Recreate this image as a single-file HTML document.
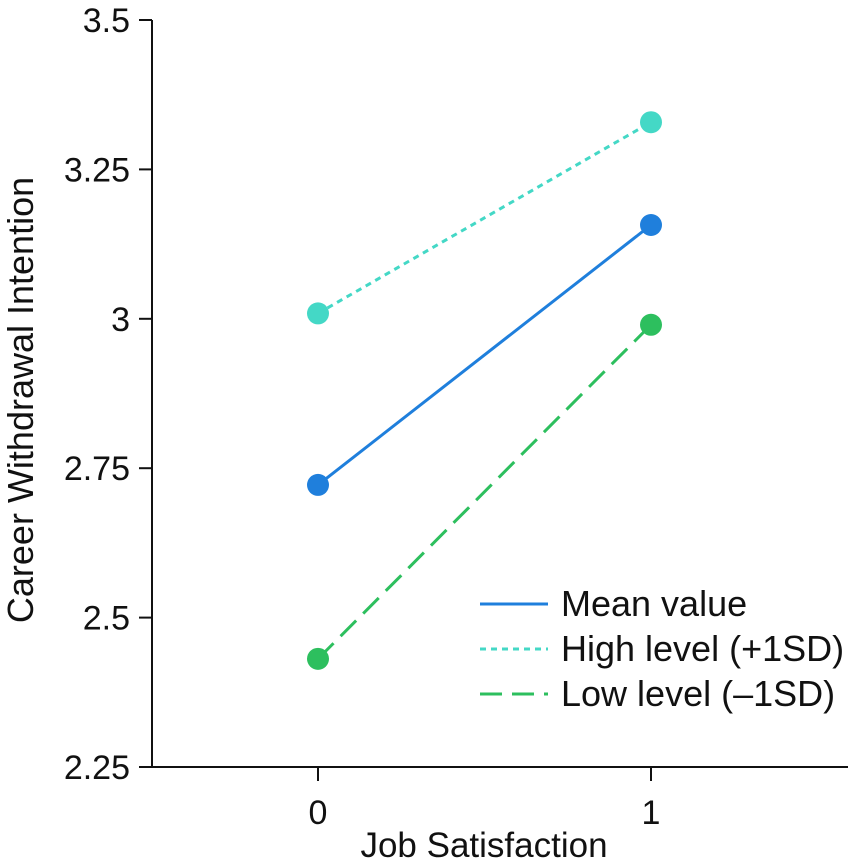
<!DOCTYPE html>
<html><head><meta charset="utf-8"><style>
body{margin:0;background:#fff;}
svg text{font-family:"Liberation Sans",Arial,sans-serif;fill:#111;}
</style></head><body>
<svg id="chart" width="851" height="862" viewBox="0 0 851 862" xmlns="http://www.w3.org/2000/svg">
<g id="axes"></g><g id="marks"></g><g id="legend"></g>
</svg>
<script>
const xCategories = [0, 1];
const yTicks = [2.25, 2.5, 2.75, 3, 3.25, 3.5];
const yTickLabels = ["2.25", "2.5", "2.75", "3", "3.25", "3.5"];
const seriesNames = ["Mean value", "High level (+1SD)", "Low level (\u20131SD)"];
const meanValues = [2.722, 3.157];
const highValues = [3.009, 3.329];
const lowValues = [2.431, 2.990];

const NS = "http://www.w3.org/2000/svg";
const x0 = 152, yBase = 767, yTop = 20;
function xs(v){ return 318 + v * 333; }
function ys(v){ return yBase - (v - 2.25) / 1.25 * (yBase - yTop); }
function mk(tag, attrs, parent){ const e = document.createElementNS(NS, tag); for (const k in attrs) e.setAttribute(k, attrs[k]); parent.appendChild(e); return e; }

const axes = document.getElementById('axes');
const ya = mk('line', {x1:x0, y1:yTop, x2:x0, y2:yBase, stroke:'#111', 'stroke-width':2}, axes);


const xa = mk('line', {x1:x0, y1:yBase, x2:848, y2:yBase, stroke:'#111', 'stroke-width':2}, axes);


yTicks.forEach((t, i) => {
  const y = ys(t);
  const tk = mk('line', {x1:139, y1:y, x2:x0, y2:y, stroke:'#111', 'stroke-width':2}, axes);
  
  
  const tx = mk('text', {x:130, y:y + 12, 'text-anchor':'end', 'font-size':34}, axes);
  tx.textContent = yTickLabels[i];
  
  
});
xCategories.forEach(c => {
  const x = xs(c);
  const tk = mk('line', {x1:x, y1:yBase, x2:x, y2:781, stroke:'#111', 'stroke-width':2}, axes);
  
  
  const tx = mk('text', {x:x, y:824, 'text-anchor':'middle', 'font-size':34}, axes);
  tx.textContent = String(c);
  
  
});
const xt = mk('text', {x:484, y:857, 'text-anchor':'middle', 'font-size':35}, axes);
xt.textContent = 'Job Satisfaction';


const yt = mk('text', {x:0, y:0, 'text-anchor':'middle', 'font-size':36, transform:'translate(33,400) rotate(-90)'}, axes);
yt.textContent = 'Career Withdrawal Intention';



const series = [
  {vals: meanValues, color:'#1f7fdc', dash:'', key:'mean'},
  {vals: highValues, color:'#44d8c6', dash:'6,5', key:'high'},
  {vals: lowValues, color:'#2dbf5e', dash:'22,10', key:'low'}
];
const marks = document.getElementById('marks');
series.forEach(s => {
  const ln = mk('line', {x1:xs(xCategories[0]), y1:ys(s.vals[0]), x2:xs(xCategories[1]), y2:ys(s.vals[1]), stroke:s.color, 'stroke-width':3, 'stroke-dasharray':s.dash}, marks);
  
  
  s.vals.forEach((v, i) => {
    const c = mk('circle', {cx:xs(xCategories[i]), cy:ys(v), r:11, fill:s.color}, marks);
    
    
  });
});
const legend = document.getElementById('legend');
series.forEach((s, i) => {
  const y = 604 + i * 45;
  const ln = mk('line', {x1:480, y1:y, x2:548, y2:y, stroke:s.color, 'stroke-width':3, 'stroke-dasharray':s.dash}, legend);
  
  
  const tx = mk('text', {x:561, y:y + 12, 'font-size':36}, legend);
  tx.textContent = seriesNames[i];
  
  
});
</script>
</body></html>
